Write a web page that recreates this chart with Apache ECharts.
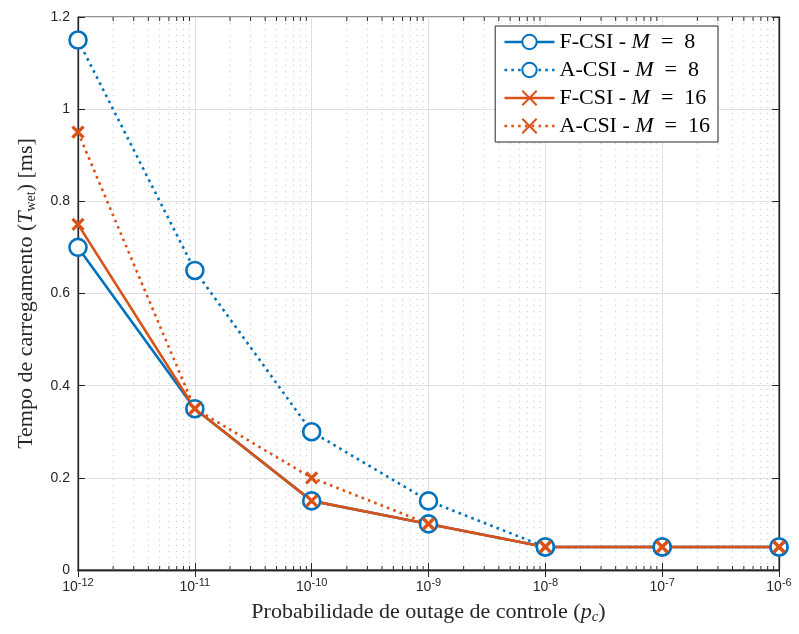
<!DOCTYPE html>
<html><head><meta charset="utf-8">
<script src="https://cdn.jsdelivr.net/npm/echarts@6/dist/echarts.min.js"></script>
<style>html,body{margin:0;padding:0;background:#fff}#c{width:799px;height:634px}</style>
</head><body><div id="c"></div>
<script>
const xValues = [1e-12, 1e-11, 1e-10, 1e-9, 1e-8, 1e-7, 1e-6];
const fcsiM8  = [0.70, 0.35, 0.15, 0.10, 0.05, 0.05, 0.05];
const acsiM8  = [1.15, 0.65, 0.30, 0.15, 0.05, 0.05, 0.05];
const fcsiM16 = [0.75, 0.35, 0.15, 0.10, 0.05, 0.05, 0.05];
const acsiM16 = [0.95, 0.35, 0.20, 0.10, 0.05, 0.05, 0.05];
const seriesNames = ['F-CSI - M = 8', 'A-CSI - M = 8', 'F-CSI - M = 16', 'A-CSI - M = 16'];
const yTicks = [0, 0.2, 0.4, 0.6, 0.8, 1, 1.2];

const BLUE = '#0072BD', ORANGE = '#D95319';
const CROSS = 'path://M0,0L10,10M10,0L0,10';
const minorX = [];
for (let e = -12; e < -6; e++) for (let k = 2; k <= 9; k++) minorX.push(k * Math.pow(10, e));

function pairs(ys){ return xValues.map((x,i)=>[x, ys[i]]); }

const chart = echarts.init(document.getElementById('c'), null, {renderer:'canvas'});
const serifFont = '"Liberation Serif", "DejaVu Serif", serif';
const sansFont = '"Liberation Sans", Arial, sans-serif';

function mk(name, ys, color, dotted, symbol, size){
  return {
    name, type:'line', data: pairs(ys), z: 5,
    symbol, symbolSize: size,
    lineStyle:{color, width:2.6, type: dotted ? [2.6,4.2] : 'solid'},
    itemStyle: symbol==='circle' ? {color:'#fff', borderColor:color, borderWidth:2.6} : {color:'none', borderColor:color, borderWidth:3.2},
    emphasis:{disabled:true}
  };
}

const option = {
  animation:false,
  backgroundColor:'#fff',
  grid:{left:78, right:20, top:17, bottom:64, show:true, borderColor:'#262626', borderWidth:1, backgroundColor:'#fff'},
  legend:{
    show:true, right:81, top:26, orient:'vertical',
    backgroundColor:'#fff', borderColor:'#262626', borderWidth:1,
    padding:[5,8,5,8], itemGap:6, itemWidth:50, itemHeight:18,
    lineStyle:{width:2.6},
    textStyle:{fontFamily:serifFont, fontSize:22, color:'#000',
      rich:{i:{fontFamily:serifFont, fontStyle:'italic', fontSize:22}}},
    formatter: function(n){ const p = n.split(' - M = '); return p[0] + ' - {i|M}  =  ' + p[1]; },
    data: seriesNames
  },
  xAxis:[{
    type:'log', logBase:10, min:1e-12, max:1e-6,
    name:'Probabilidade de outage de controle ({i|p}{s|c})',
    nameLocation:'middle', nameGap:30,
    nameTextStyle:{fontFamily:serifFont, fontSize:22, color:'#262626',
      rich:{i:{fontFamily:serifFont, fontStyle:'italic', fontSize:22}, s:{fontFamily:serifFont, fontStyle:'italic', fontSize:15, padding:[10,0,0,0]}}},
    axisLine:{lineStyle:{color:'#262626', width:1.3}},
    axisTick:{inside:true, length:7, lineStyle:{color:'#262626'}},
    axisLabel:{margin:7, color:'#262626', fontFamily:sansFont, fontSize:14,
      formatter: v => '{b|10}{s|' + Math.round(Math.log10(v)) + '}',
      rich:{b:{fontFamily:sansFont, fontSize:14, color:'#262626'}, s:{fontFamily:sansFont, fontSize:11, color:'#262626', padding:[0,0,10,0]}}},
    splitLine:{show:true, lineStyle:{color:'#e0e0e0', width:1}}
  },{
    type:'log', logBase:10, min:1e-12, max:1e-6, position:'top',
    axisLine:{lineStyle:{color:'#262626', width:1.3}}, axisTick:{inside:true, length:7, lineStyle:{color:'#262626'}},
    axisLabel:{show:false}, splitLine:{show:false}
  }],
  yAxis:[{
    type:'value', min:0, max:1.2, interval:0.2,
    name:'Tempo de carregamento ({i|T}{s|wet}) [ms]',
    nameLocation:'middle', nameGap:40,
    nameTextStyle:{fontFamily:serifFont, fontSize:22, color:'#262626',
      rich:{i:{fontFamily:serifFont, fontStyle:'italic', fontSize:22}, s:{fontFamily:serifFont, fontSize:14, padding:[10,0,0,0]}}},
    axisLine:{show:true, lineStyle:{color:'#262626', width:1.3}},
    axisTick:{inside:true, length:7, lineStyle:{color:'#262626'}},
    axisLabel:{color:'#262626', fontFamily:sansFont, fontSize:14, margin:8,
      formatter: v => String(Math.round(v*10)/10)},
    splitLine:{show:true, lineStyle:{color:'#e0e0e0', width:1}}
  },{
    type:'value', min:0, max:1.2, interval:0.2, position:'right',
    axisLine:{show:true, lineStyle:{color:'#262626', width:1.3}},
    axisTick:{inside:true, length:7, lineStyle:{color:'#262626'}},
    axisLabel:{show:false}, splitLine:{show:false}
  }],
  series:[
    {type:'custom', silent:true, z:1, data: minorX.map(x=>[x]),
      renderItem:function(params, api){
        const p = api.coord([api.value(0), 0]);
        const q = api.coord([api.value(0), 1.2]);
        return {type:'line', shape:{x1:p[0], y1:p[1], x2:q[0], y2:q[1]},
          style:{stroke:'#c8c8c8', lineWidth:1, lineDash:[1.2,4.8]}};
      }},
    {type:'custom', silent:true, z:3, data: minorX.map(x=>[x]),
      renderItem:function(params, api){
        const p = api.coord([api.value(0), 0]);
        const q = api.coord([api.value(0), 1.2]);
        return {type:'group', children:[
          {type:'line', shape:{x1:p[0], y1:p[1], x2:p[0], y2:p[1]-4}, style:{stroke:'#262626', lineWidth:1}},
          {type:'line', shape:{x1:q[0], y1:q[1], x2:q[0], y2:q[1]+4}, style:{stroke:'#262626', lineWidth:1}}
        ]};
      }},
    mk(seriesNames[0], fcsiM8, BLUE, false, 'circle', 17),
    mk(seriesNames[1], acsiM8, BLUE, true, 'circle', 17),
    mk(seriesNames[2], fcsiM16, ORANGE, false, CROSS, 11),
    mk(seriesNames[3], acsiM16, ORANGE, true, CROSS, 11)
  ]
};
chart.setOption(option);
</script></body></html>
